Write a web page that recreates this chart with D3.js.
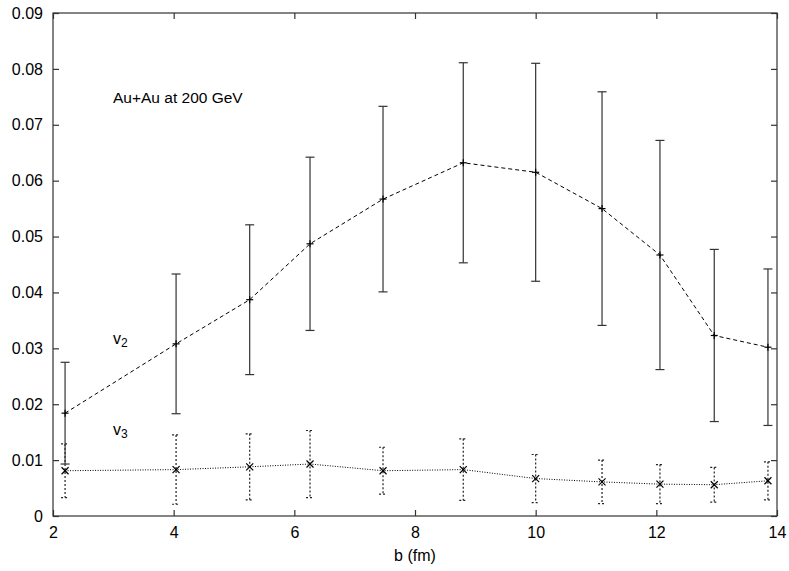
<!DOCTYPE html>
<html><head><meta charset="utf-8">
<script src="https://cdn.jsdelivr.net/npm/d3@7"></script>
<style>body{margin:0;background:#fff}svg{display:block}text{font-family:"Liberation Sans",Arial,sans-serif;fill:#000}</style>
</head><body><svg id="c" width="789" height="571"></svg>
<script>
const bValues = [2.2, 4.04, 5.26, 6.26, 7.47, 8.8, 10.0, 11.1, 12.06, 12.96, 13.85];
const v2Values = [0.0184, 0.0308, 0.0387, 0.0487, 0.0567, 0.0632, 0.0615, 0.0550, 0.0467, 0.0323, 0.0302];
const v2Errors = [0.0091, 0.0125, 0.0134, 0.0155, 0.0166, 0.0179, 0.0195, 0.0209, 0.0205, 0.0154, 0.0140];
const v3Values = [0.0081, 0.0083, 0.0088, 0.0093, 0.0081, 0.0083, 0.0067, 0.0061, 0.0057, 0.0056, 0.0063];
const v3Errors = [0.0048, 0.0062, 0.0059, 0.0060, 0.0042, 0.0055, 0.0043, 0.0039, 0.0035, 0.0031, 0.0034];
const xTicks = [2, 4, 6, 8, 10, 12, 14];
const yTicks = [0, 0.01, 0.02, 0.03, 0.04, 0.05, 0.06, 0.07, 0.08, 0.09];

const svg = d3.select("#c");
const L = 53, R = 777, T = 13, B = 516;
const x = d3.scaleLinear().domain([2, 14]).range([L, R]);
const y = d3.scaleLinear().domain([0, 0.09]).range([B, T]);
const axisCol = "#333";
const FONT = '"Liberation Sans",Arial,sans-serif';

// frame
svg.append("rect").attr("x", L).attr("y", T).attr("width", R - L).attr("height", B - T)
  .attr("fill", "none").attr("stroke", axisCol).attr("stroke-width", 1.2);

// axes with inward ticks
const fmtY = d => d === 0 ? "0" : d3.format(".2f")(d);
const gx = svg.append("g").attr("transform", `translate(0,${B})`)
  .call(d3.axisBottom(x).tickValues(xTicks).tickSize(-6).tickPadding(11).tickFormat(d3.format("d")));
const gxt = svg.append("g").attr("transform", `translate(0,${T})`)
  .call(d3.axisTop(x).tickValues(xTicks).tickSize(-6).tickFormat(""));
const gy = svg.append("g").attr("transform", `translate(${L},0)`)
  .call(d3.axisLeft(y).tickValues(yTicks).tickSize(-6).tickPadding(10).tickFormat(fmtY));
const gyr = svg.append("g").attr("transform", `translate(${R},0)`)
  .call(d3.axisRight(y).tickValues(yTicks).tickSize(-6).tickFormat(""));
[gx, gxt, gy, gyr].forEach(g => {
  g.select(".domain").remove();
  g.selectAll("line").attr("stroke", axisCol).attr("stroke-width", 1.2);
  g.selectAll("text").attr("font-size", 16).attr("font-family", FONT).attr("fill", "#000");
});

svg.append("text").attr("x", (L + R) / 2).attr("y", 561).attr("text-anchor", "middle")
  .attr("font-size", 16).text("b (fm)");

const data = bValues.map((b, i) => ({b, v2: v2Values[i], e2: v2Errors[i], v3: v3Values[i], e3: v3Errors[i]}));

// v3 error bars (dotted)
const g3 = svg.append("g").attr("stroke", "#222").attr("stroke-width", 1.2).attr("stroke-dasharray", "2,2").attr("fill", "none");
data.forEach(d => {
  const cx = x(d.b), y1 = y(d.v3 + d.e3), y2 = y(d.v3 - d.e3);
  g3.append("line").attr("x1", cx).attr("x2", cx).attr("y1", y1).attr("y2", y2);
  g3.append("line").attr("x1", cx - 4).attr("x2", cx + 4).attr("y1", y1).attr("y2", y1);
  g3.append("line").attr("x1", cx - 4).attr("x2", cx + 4).attr("y1", y2).attr("y2", y2);
});

// v2 error bars (solid)
const g2 = svg.append("g").attr("stroke", "#333").attr("stroke-width", 1.2).attr("fill", "none");
data.forEach(d => {
  const cx = x(d.b), y1 = y(d.v2 + d.e2), y2 = y(d.v2 - d.e2);
  g2.append("line").attr("x1", cx).attr("x2", cx).attr("y1", y1).attr("y2", y2);
  g2.append("line").attr("x1", cx - 4.5).attr("x2", cx + 4.5).attr("y1", y1).attr("y2", y1);
  g2.append("line").attr("x1", cx - 4.5).attr("x2", cx + 4.5).attr("y1", y2).attr("y2", y2);
});

// lines
svg.append("path").datum(data).attr("fill", "none").attr("stroke", "#000").attr("stroke-width", 1)
  .attr("stroke-dasharray", "4,3")
  .attr("d", d3.line().x(d => x(d.b)).y(d => y(d.v2)));
svg.append("path").datum(data).attr("fill", "none").attr("stroke", "#000").attr("stroke-width", 1)
  .attr("stroke-dasharray", "1,1.5")
  .attr("d", d3.line().x(d => x(d.b)).y(d => y(d.v3)));

// markers
const gm = svg.append("g").attr("stroke", "#000").attr("stroke-width", 1.2);
data.forEach(d => {
  const cx = x(d.b), cy = y(d.v2);
  gm.append("line").attr("x1", cx - 3.5).attr("x2", cx + 3.5).attr("y1", cy).attr("y2", cy);
  gm.append("line").attr("x1", cx).attr("x2", cx).attr("y1", cy - 3.5).attr("y2", cy + 3.5);
  const cy3 = y(d.v3);
  gm.append("line").attr("x1", cx - 3.5).attr("x2", cx + 3.5).attr("y1", cy3 - 3.5).attr("y2", cy3 + 3.5);
  gm.append("line").attr("x1", cx - 3.5).attr("x2", cx + 3.5).attr("y1", cy3 + 3.5).attr("y2", cy3 - 3.5);
});

// annotations
svg.append("text").attr("x", 113).attr("y", 102.5).attr("font-size", 15.5).text("Au+Au at 200 GeV");
const t2 = svg.append("text").attr("x", 113).attr("y", 344).attr("font-size", 16);
t2.append("tspan").text("v");
t2.append("tspan").attr("dy", 3).attr("font-size", 12).text("2");
const t3 = svg.append("text").attr("x", 113).attr("y", 435).attr("font-size", 16);
t3.append("tspan").text("v");
t3.append("tspan").attr("dy", 3).attr("font-size", 12).text("3");
</script></body></html>
